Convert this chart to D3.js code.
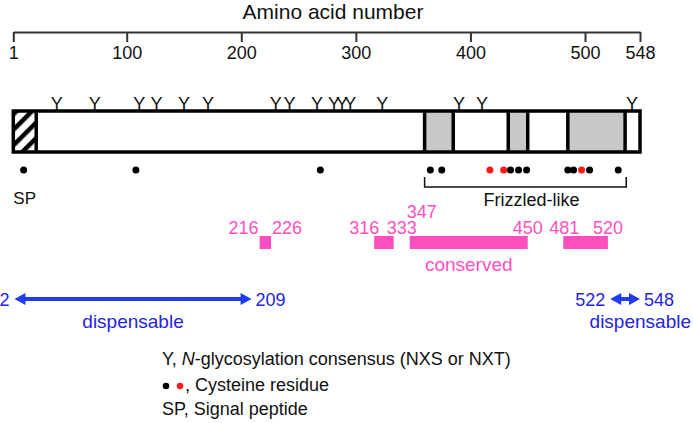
<!DOCTYPE html>
<html>
<head>
<meta charset="utf-8">
<script src="https://cdn.jsdelivr.net/npm/d3@7"></script>
<style>
  html, body { margin: 0; padding: 0; background: #fff; }
  svg { display: block; font-family: "Liberation Sans", Arial, Helvetica, sans-serif; }
</style>
</head>
<body>
<svg id="chart" width="693" height="423"></svg>
<script>
// ---------------- data ----------------
const proteinLength = 548;
const axisTicks = [1, 100, 200, 300, 400, 500, 548];
const signalPeptide = [1, 21];
const grayDomains = [[360, 385], [433, 450], [485, 535]];
const glycoSites = [39, 72, 111, 126, 150, 171, 230, 242, 266, 281, 288, 295, 323, 390, 410, 541];
const cysBlack = [10, 108, 269, 365, 375, 435, 442, 449, 485, 490, 504, 529];
const cysRed = [417, 429, 497];
const frizzledRange = [360, 536];
const conservedRegions = [[216, 226], [316, 333], [347, 450], [481, 520]];
const dispensableRegions = [[2, 209], [522, 548]];

// ---------------- setup ----------------
const svg = d3.select("#chart");
const W = 693, H = 423;
const x = d3.scaleLinear().domain([1, proteinLength]).range([13.3, 640]);

const black = "#000";
const pink = "#ff4fbf";
const blue = "#1f3cf0";
const blueText = "#2424e0";

// title
svg.append("text").attr("x", 333).attr("y", 19)
  .attr("text-anchor", "middle").attr("font-size", 21).attr("fill", "#111")
  .text("Amino acid number");

// top axis
const axisG = svg.append("g").attr("transform", "translate(0,32)")
  .call(d3.axisBottom(x).tickValues(axisTicks).tickSize(10).tickSizeOuter(0).tickPadding(4).tickFormat(d3.format("d")));
axisG.select(".domain").attr("stroke", "#333").attr("stroke-width", 2);
axisG.selectAll(".tick line").attr("stroke", "#333").attr("stroke-width", 2);
axisG.selectAll(".tick text").attr("font-size", 18).attr("fill", "#111")
  .attr("font-family", "'Liberation Sans', Arial, sans-serif");

// defs: hatch pattern
const defs = svg.append("defs");
const pat = defs.append("pattern").attr("id", "hatch")
  .attr("patternUnits", "userSpaceOnUse").attr("width", 11).attr("height", 11)
  .attr("patternTransform", "rotate(45)");
pat.append("rect").attr("width", 11).attr("height", 11).attr("fill", "#fff");
pat.append("rect").attr("x", 0).attr("width", 4.5).attr("height", 11).attr("fill", "#000");

// protein box
const boxTop = 111, boxBot = 152;
const boxG = svg.append("g");
boxG.append("rect").attr("x", x(1)).attr("y", boxTop)
  .attr("width", x(proteinLength) - x(1)).attr("height", boxBot - boxTop)
  .attr("fill", "#fff");
boxG.selectAll("rect.dom").data(grayDomains).enter().append("rect")
  .attr("class", "dom")
  .attr("x", d => x(d[0])).attr("y", boxTop)
  .attr("width", d => x(d[1]) - x(d[0])).attr("height", boxBot - boxTop)
  .attr("fill", "#c8c8c8");
boxG.append("rect").attr("x", x(signalPeptide[0])).attr("y", boxTop)
  .attr("width", x(signalPeptide[1]) - x(signalPeptide[0])).attr("height", boxBot - boxTop)
  .attr("fill", "url(#hatch)");
// boundary lines
const boundaries = [signalPeptide[1]].concat(...grayDomains);
boxG.selectAll("line.bd").data(boundaries).enter().append("line")
  .attr("x1", d => x(d)).attr("x2", d => x(d))
  .attr("y1", boxTop).attr("y2", boxBot)
  .attr("stroke", black).attr("stroke-width", 3.5);
boxG.append("rect").attr("x", x(1)).attr("y", boxTop)
  .attr("width", x(proteinLength) - x(1)).attr("height", boxBot - boxTop)
  .attr("fill", "none").attr("stroke", black).attr("stroke-width", 3.5);

// glycosylation Y marks
svg.selectAll("text.glyco").data(glycoSites).enter().append("text")
  .attr("class", "glyco")
  .attr("x", d => x(d)).attr("y", boxTop - 1)
  .attr("text-anchor", "middle").attr("font-size", 18).attr("fill", "#111")
  .text("Y");

// cysteines
const dotY = 170;
svg.selectAll("circle.cb").data(cysBlack).enter().append("circle")
  .attr("cx", d => x(d)).attr("cy", dotY).attr("r", 3.5).attr("fill", black);
svg.selectAll("circle.cr").data(cysRed).enter().append("circle")
  .attr("cx", d => x(d)).attr("cy", dotY).attr("r", 3.5).attr("fill", "#ff1a1a");

// SP label
svg.append("text").attr("x", x(1)).attr("y", 204).attr("font-size", 17).attr("fill", "#111").text("SP");

// Frizzled-like bracket
svg.append("path")
  .attr("d", `M${x(frizzledRange[0])},177 V187 H${x(frizzledRange[1])} V177`)
  .attr("fill", "none").attr("stroke", "#111").attr("stroke-width", 1.5);
svg.append("text").attr("x", (x(frizzledRange[0]) + x(frizzledRange[1])) / 2 + 6).attr("y", 206)
  .attr("text-anchor", "middle").attr("font-size", 18).attr("fill", "#111").text("Frizzled-like");

// conserved regions
const barTop = 236, barH = 13;
svg.selectAll("rect.cons").data(conservedRegions).enter().append("rect")
  .attr("x", d => x(d[0])).attr("y", barTop)
  .attr("width", d => x(d[1]) - x(d[0])).attr("height", barH)
  .attr("fill", pink);
// label placement (anchor, dx, y) per region boundary
const consLabelPlacement = [
  [["end", -1, 234], ["start", 1, 234]],
  [["end", 5, 234], ["start", -7, 234]],
  [["start", -3, 218], ["middle", 0, 234]],
  [["middle", 1, 234], ["middle", 0, 234]]
];
conservedRegions.forEach((r, i) => {
  r.forEach((v, j) => {
    const p = consLabelPlacement[i][j];
    svg.append("text").attr("x", x(v) + p[1]).attr("y", p[2])
      .attr("text-anchor", p[0]).attr("font-size", 18).attr("fill", pink).text(v);
  });
});
svg.append("text").attr("x", (x(347) + x(450)) / 2).attr("y", 271)
  .attr("text-anchor", "middle").attr("font-size", 19).attr("fill", pink).text("conserved");

// dispensable arrows
const arrowY = 299;
function dblArrow(x1, x2) {
  const hl = 11, hh = 6, lw = 2;
  return `M${x1},${arrowY} L${x1 + hl},${arrowY - hh} L${x1 + hl},${arrowY - lw} L${x2 - hl},${arrowY - lw} L${x2 - hl},${arrowY - hh} L${x2},${arrowY} L${x2 - hl},${arrowY + hh} L${x2 - hl},${arrowY + lw} L${x1 + hl},${arrowY + lw} L${x1 + hl},${arrowY + hh} Z`;
}
svg.selectAll("path.arr").data(dispensableRegions).enter().append("path")
  .attr("d", d => dblArrow(x(d[0]), x(d[1]))).attr("fill", blue);
dispensableRegions.forEach(d => {
  svg.append("text").attr("x", x(d[0]) - 5).attr("y", arrowY + 6.5)
    .attr("text-anchor", "end").attr("font-size", 18).attr("fill", blueText).text(d[0]);
  svg.append("text").attr("x", x(d[1]) + 4).attr("y", arrowY + 6.5)
    .attr("text-anchor", "start").attr("font-size", 18).attr("fill", blueText).text(d[1]);
});
svg.append("text").attr("x", (x(dispensableRegions[0][0]) + x(dispensableRegions[0][1])) / 2).attr("y", 328)
  .attr("text-anchor", "middle").attr("font-size", 19).attr("fill", blueText).text("dispensable");
svg.append("text").attr("x", W - 2).attr("y", 328)
  .attr("text-anchor", "end").attr("font-size", 19).attr("fill", blueText).text("dispensable");

// legend
const legX = 162;
const l1 = svg.append("text").attr("x", legX).attr("y", 365).attr("font-size", 18).attr("fill", "#111");
l1.append("tspan").text("Y, ");
l1.append("tspan").attr("font-style", "italic").text("N");
l1.append("tspan").text("-glycosylation consensus (NXS or NXT)");
svg.append("circle").attr("cx", legX + 4).attr("cy", 386).attr("r", 3.3).attr("fill", black);
svg.append("circle").attr("cx", legX + 18).attr("cy", 386).attr("r", 3.3).attr("fill", "#ff1a1a");
svg.append("text").attr("x", legX + 23).attr("y", 391).attr("font-size", 18).attr("fill", "#111").text(", Cysteine residue");
svg.append("text").attr("x", legX).attr("y", 415).attr("font-size", 18).attr("fill", "#111").text("SP, Signal peptide");
</script>
</body>
</html>
